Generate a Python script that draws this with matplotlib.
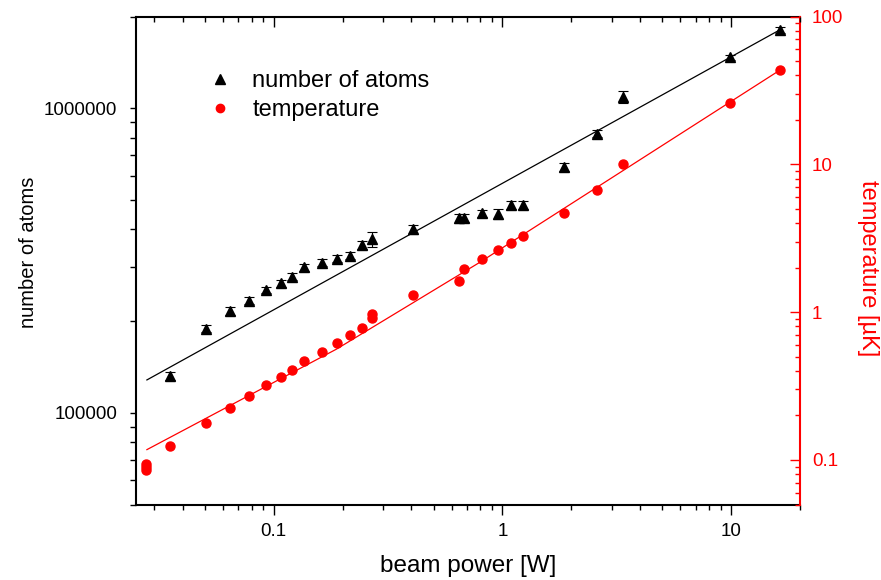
import matplotlib
matplotlib.use('Agg')
import matplotlib.pyplot as plt
from matplotlib.lines import Line2D
from matplotlib.ticker import LogLocator, FuncFormatter, NullFormatter

plt.rcParams['font.family'] = ['Liberation Sans', 'DejaVu Sans']

# 数据: 原子数 (黑色三角)
power_atoms = [0.0351, 0.0504, 0.0642, 0.078, 0.0923, 0.1073, 0.1207, 0.135, 0.162, 0.189,
               0.215, 0.243, 0.269, 0.407, 0.647, 0.68, 0.815, 0.952, 1.088, 1.232,
               1.857, 2.597, 3.373, 9.88, 16.35]
atoms = [131800, 188700, 216100, 233100, 252600, 266300, 280000, 300400, 311000, 320600,
         328000, 355300, 370900, 400000, 434500, 436600, 451300, 449800, 480300, 480300,
         641000, 824500, 1087000, 1469000, 1809000]
atoms_err = [4000, 5000, 6000, 6000, 6000, 7000, 7000, 8000, 8000, 8000,
             8000, 10000, 22000, 14000, 14000, 14000, 12000, 16000, 14000, 14000,
             20000, 22000, 50000, 30000, 40000]

# 数据: 温度 (红色圆点)
power_temp = [0.0277, 0.0277, 0.0277, 0.0351, 0.0504, 0.0642, 0.078, 0.0923, 0.1073, 0.1207,
              0.135, 0.162, 0.189, 0.215, 0.243, 0.269, 0.269, 0.407, 0.645, 0.68,
              0.815, 0.952, 1.088, 1.232, 1.857, 2.597, 3.373, 9.88, 16.35]
temp = [0.094, 0.089, 0.085, 0.124, 0.177, 0.225, 0.272, 0.320, 0.362, 0.407,
        0.464, 0.539, 0.617, 0.702, 0.782, 0.972, 0.914, 1.306, 1.623, 1.947,
        2.275, 2.617, 2.917, 3.267, 4.70, 6.68, 10.06, 25.96, 43.4]

# 拟合线
fit_power_atoms = [0.0279, 16.35]
fit_atoms = [128200, 1809000]
fit_power_temp = [0.0279, 0.188, 0.796, 16.35]
fit_temp = [0.1175, 0.562, 2.173, 43.4]

x_ticks = [0.1, 1, 10]

fig = plt.figure(figsize=(8.81, 5.80), dpi=100)
pos = [136 / 881, 1 - 504.5 / 580, 664 / 881, 488 / 580]
ax = fig.add_axes(pos)
ax2 = ax.twinx()

ax.set_xscale('log')
ax.set_yscale('log')
ax2.set_yscale('log')
ax.set_xlim(0.025, 20)
ax.set_ylim(5e4, 2e6)
ax2.set_ylim(0.05, 100)

# 原子数
ax.plot(fit_power_atoms, fit_atoms, color='black', lw=0.9)
ax.errorbar(power_atoms, atoms, yerr=atoms_err, fmt='^', color='black', ms=7.5,
            ecolor='black', elinewidth=0.8, capsize=3.5, capthick=0.8)

# 温度
ax2.plot(fit_power_temp, fit_temp, color='red', lw=0.9)
ax2.plot(power_temp, temp, 'o', color='red', ms=6.5)

fs_tick = 13.5
ax.set_xticks(x_ticks)
ax.xaxis.set_major_formatter(FuncFormatter(lambda v, p: f'{v:g}'))
ax.xaxis.set_minor_formatter(NullFormatter())
ax.yaxis.set_major_locator(LogLocator(base=10))
ax.yaxis.set_major_formatter(FuncFormatter(lambda v, p: f'{int(round(v))}'))
ax.yaxis.set_minor_formatter(NullFormatter())
ax2.yaxis.set_major_formatter(FuncFormatter(lambda v, p: f'{v:g}'))
ax2.yaxis.set_minor_formatter(NullFormatter())

ax.tick_params(axis='x', which='major', direction='out', length=7, width=1, labelsize=fs_tick, pad=6)
ax.tick_params(axis='x', which='minor', direction='out', length=3.6, width=1)
ax.tick_params(axis='y', which='both', direction='out', length=4.5, width=1, labelsize=fs_tick, pad=9)
ax2.tick_params(axis='y', which='major', direction='in', length=7, width=1, colors='red',
                labelsize=fs_tick, pad=8.5)
ax2.tick_params(axis='y', which='minor', direction='in', length=3.6, width=1, colors='red')

for s in ['left', 'bottom', 'top']:
    ax.spines[s].set_linewidth(1.5)
ax.spines['right'].set_visible(False)
for s in ['left', 'bottom', 'top']:
    ax2.spines[s].set_visible(False)
ax2.spines['right'].set_color('red')
ax2.spines['right'].set_linewidth(1.5)

# 顶部刻度 (向内)
ax3 = fig.add_axes(pos, frameon=False)
ax3.set_xscale('log')
ax3.set_xlim(0.025, 20)
ax3.set_xticks(x_ticks)
ax3.xaxis.tick_top()
ax3.tick_params(axis='x', which='major', direction='in', length=7, width=1, labeltop=False)
ax3.tick_params(axis='x', which='minor', direction='in', length=3.6, width=1)
ax3.set_yticks([])
ax3.patch.set_visible(False)

ax.set_xlabel('beam power [W]', fontsize=17.5, labelpad=11)
ax.set_ylabel('number of atoms', fontsize=14.5, labelpad=4)
ax.yaxis.label.set_y(0.516)
ax2.set_ylabel('temperature [µK]', fontsize=17, color='red', rotation=270, labelpad=26)
ax2.yaxis.label.set_y(0.485)

handles = [Line2D([], [], ls='none', marker='^', color='black', ms=7),
           Line2D([], [], ls='none', marker='o', color='red', ms=6)]
ax3.legend(handles, ['number of atoms', 'temperature'], loc='upper left',
           bbox_to_anchor=(0.0994, 0.89), frameon=False, fontsize=17, borderpad=0,
           borderaxespad=0, handlelength=1.5, handletextpad=0.625, labelspacing=0.28)

fig.savefig('out.png', dpi=100)
